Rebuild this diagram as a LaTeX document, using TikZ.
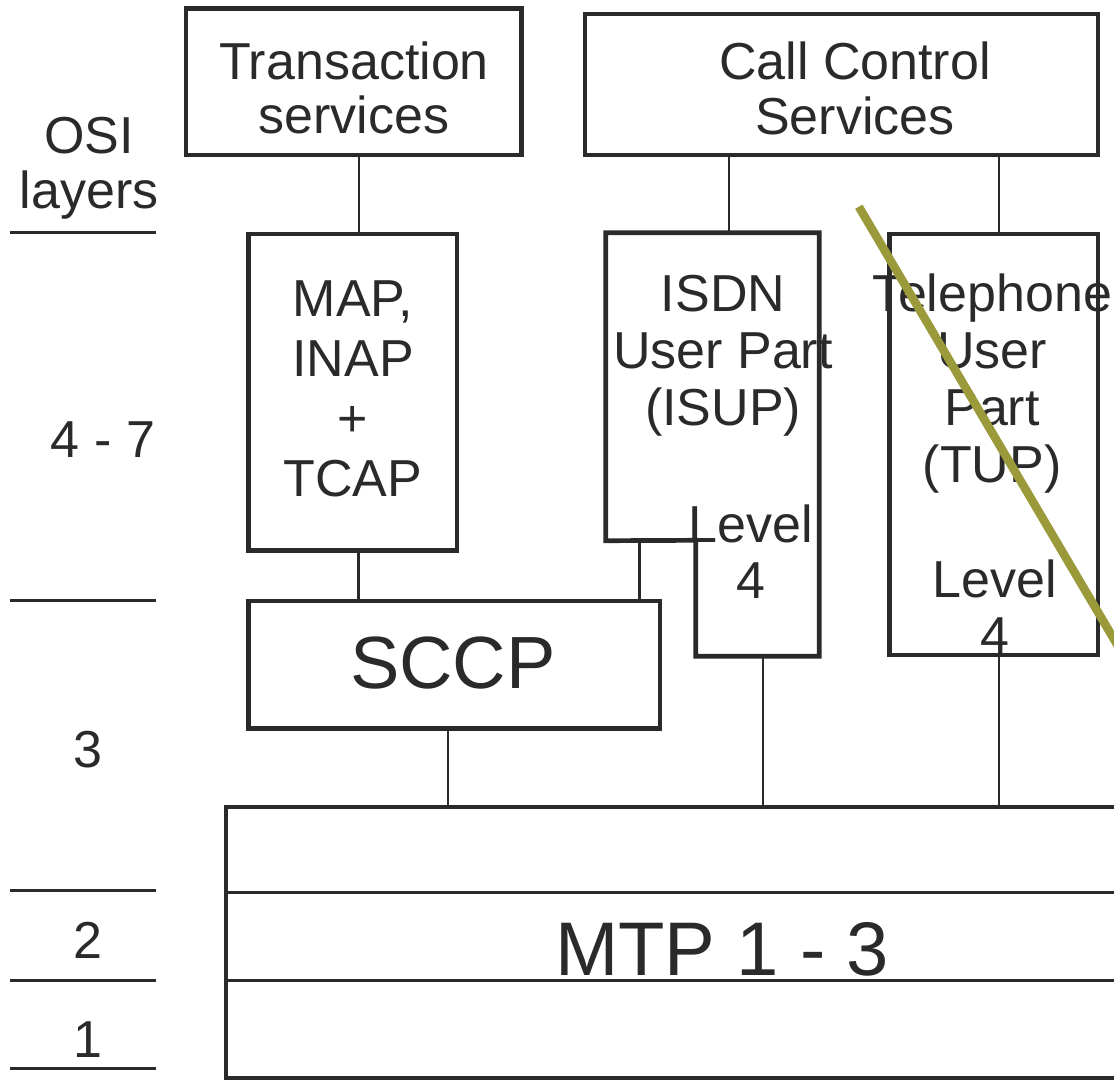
\documentclass[tikz,border=0pt]{standalone}
\usepackage{fontspec}
\setmainfont{Liberation Sans}
\usepackage{xcolor}
\usepackage{tikz}
\usetikzlibrary{positioning, calc}
\definecolor{ink}{RGB}{42,42,42}
\definecolor{strikecol}{RGB}{155,154,58}
\tikzstyle{box} = [draw=ink, line width=4.7pt, inner sep=0pt]
\tikzstyle{wire} = [draw=ink, line width=2.5pt]
\tikzstyle{layerline} = [draw=ink, line width=3pt]
\tikzstyle{txt} = [align=center, font=\fontsize{52}{57}\selectfont]
\tikzstyle{big} = [font=\fontsize{74}{80}\selectfont]

\begin{document}
\begin{tikzpicture}[x=1pt, y=-1pt, every node/.style={text=ink, inner sep=0pt}]
          \useasboundingbox (0,0) rectangle (1114,1080);

          % boxes
          \node[box, minimum width=335.7pt, minimum height=146.5pt] (trans) at (353.85,81.75) {};
          \node[box, minimum width=513pt, minimum height=141pt] (call) at (841.5,84.5) {};
          \node[box, minimum width=208.5pt, minimum height=316.5pt] (map) at (352.75,392.25) {};
          \node[box, minimum width=411.5pt, minimum height=127.3pt] (sccp) at (454.25,664.65) {};
          \node[minimum width=213pt, minimum height=307.5pt] (isdn) at (712.5,386.75) {};
          \node[minimum width=123pt, minimum height=115.5pt] (lvl-4) at (757.5,598.25) {};
          \draw[box] (isdn.north west) -- (isdn.north east) -- (lvl-4.south east) -- (lvl-4.south west)
                -- (lvl-4.north west) -- (isdn.south west) -- cycle;
          \node[box, minimum width=208.5pt, minimum height=421pt] (tup) at (993.75,444.5) {};
          \node[box, minimum width=924pt, minimum height=271pt] (mtp) at (688,942.5) {};
          \draw[layerline] (mtp.west |- 0,892) -- (mtp.east |- 0,892);
          \draw[layerline] (mtp.west |- 0,980) -- (mtp.east |- 0,980);

          % texts
          \node[txt, font=\fontsize{52}{54}\selectfont] (trans-txt) at (354,88.2) {Transaction\\services};
          \node[txt, font=\fontsize{52}{55}\selectfont] (call-txt) at (855,88) {Call Control\\Services};
          \node[txt, font=\fontsize{52}{60}\selectfont] (map-txt) at (353,388.4) {MAP,\\INAP\\+\\TCAP};
          \node[txt] (isdn-txt) at (723,355.9) {ISDN\\User Part\\(ISUP)};
          \node[txt, font=\fontsize{52}{56}\selectfont] (isdn-lvl) at (751,551.4) {Level\\4};
          \node[txt] (tup-txt) at (992,383.4) {Telephone\\User\\Part\\(TUP)};
          \node[txt, font=\fontsize{52}{56}\selectfont] (tup-lvl) at (995,606.4) {Level\\4};
          \node[big] (sccp-txt) at (453,663) {SCCP};
          \node[font=\fontsize{76}{80}\selectfont] (mtp-txt) at (722,949) {MTP 1 - 3};

          % OSI layers
          \node[txt, font=\fontsize{52}{55}\selectfont] (osi) at (89,167.75) {OSI\\layers};
          \node[txt] (layer-47) at (103,440) {4 - 7};
          \node[txt] (layer-3) at (88,750) {3};
          \node[txt] (layer-2) at (88,940) {2};
          \node[txt] (layer-1) at (88,1040) {1};
          \foreach \y in {232,600,890,980,1068}
              \draw[layerline] (10,\y) -- (156,\y);

          % connectors
          \draw[wire] ([xshift=5pt]trans.south) -- ([xshift=5pt]trans.south |- map.north);
          \draw[wire] ([xshift=5.5pt]map.south) -- ([xshift=5.5pt]map.south |- sccp.north);
          \draw[wire] ([xshift=16.5pt]isdn.north) -- ([xshift=16.5pt]isdn.north |- call.south);
          \draw[wire] ([xshift=5pt]tup.north) -- ([xshift=5pt]tup.north |- call.south);
          \draw[wire] ([xshift=33.5pt]isdn.south west) -- ([xshift=33.5pt]isdn.south west |- sccp.north);
          \draw[wire] ([xshift=-6.5pt]sccp.south) -- ([xshift=-6.5pt]sccp.south |- mtp.north);
          \draw[wire] ([xshift=5.5pt]lvl-4.south) -- ([xshift=5.5pt]lvl-4.south |- mtp.north);
          \draw[wire] ([xshift=5.25pt]tup.south) -- ([xshift=5.25pt]tup.south |- mtp.north);

          % strike line
          \coordinate (strike-a) at (858.8,206.7);
          \coordinate (strike-b) at (1130,666.4);
          \draw[strikecol, line width=8.5pt] (strike-a) -- (strike-b);
      \end{tikzpicture}
\end{document}
